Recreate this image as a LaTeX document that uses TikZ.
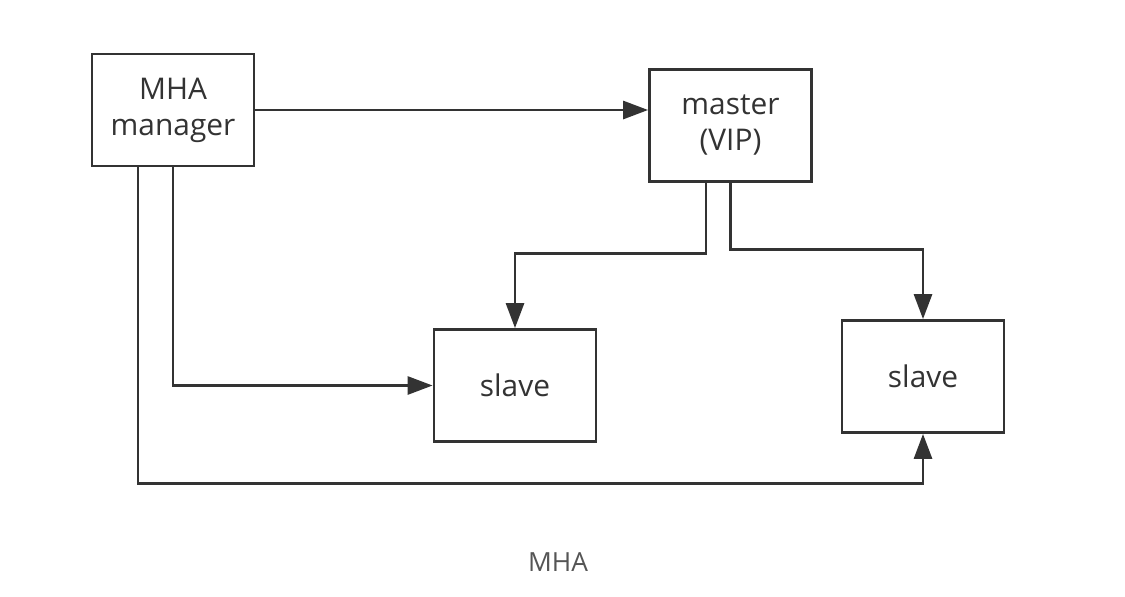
\documentclass[tikz,border=0pt]{standalone}
\usepackage{fontspec}
\setmainfont{Open Sans}
\usetikzlibrary{arrows.meta}

\definecolor{linegray}{HTML}{333333}
\definecolor{capgray}{HTML}{555555}

\begin{document}
\begin{tikzpicture}[x=0.02cm,y=-0.02cm,
  box/.style={draw=linegray,line width=1.6pt,fill=white,minimum width=3.24cm,minimum height=2.24cm,
    align=center,text=linegray,font=\fontsize{17}{20.5}\selectfont},
  link/.style={-{Triangle[length=0.5cm,width=0.36cm]},draw=linegray,line width=1.6pt}]
  \useasboundingbox (0,0) rectangle (1125,596);
  \node[box] (mgr) at (173,110) {MHA\\manager};
  \node[box] (mst) at (730.5,125.5) {master\\(VIP)};
  \node[box] (s1) at (515,385.5) {slave};
  \node[box] (s2) at (923,376.5) {slave};
  \node[text=capgray,font=\fontsize{15}{18}\selectfont] (cap) at (558,562) {MHA};
  % connectors
  \draw[link] (mgr.east) -- (mgr.east -| mst.west);
  \draw[link] ([xshift=-0.49cm]mst.south) -- ++(0,71) -| (s1.north);
  \draw[link] (mst.south) -- ++(0,67) -| (s2.north);
  \draw[link] (mgr.south) |- (s1.west);
  \draw[link] ([xshift=-0.7cm]mgr.south) -- ++(0,316) -| (s2.south);
\end{tikzpicture}
\end{document}
